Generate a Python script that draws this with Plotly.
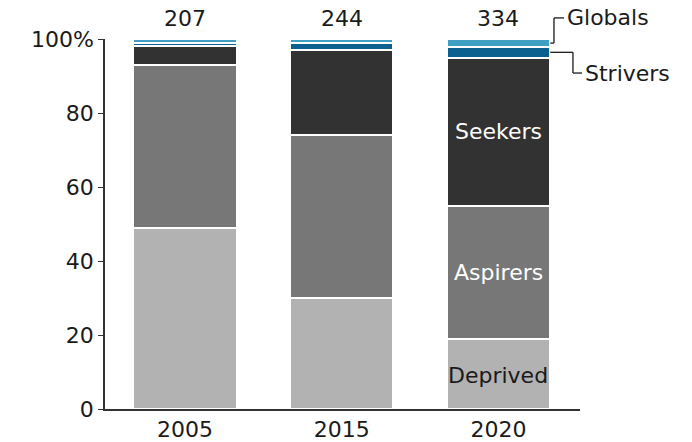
import plotly.graph_objects as go

years = ["2005", "2015", "2020"]
totals = [207, 244, 334]

# share of households (%), bottom to top
deprived = [49, 30, 19]
aspirers = [44, 44, 36]
seekers = [5, 23, 40]
strivers = [1, 1.8, 2.8]
globals_ = [1, 1.2, 2.2]

segments = [
    ("Deprived", deprived, "#b2b2b2"),
    ("Aspirers", aspirers, "#777777"),
    ("Seekers", seekers, "#323232"),
    ("Strivers", strivers, "#0b6090"),
    ("Globals", globals_, "#3fa0c4"),
]

FONT = "DejaVu Sans"
BAR_W = 0.66
X_RANGE = [-0.51, 2.52]
TXT = "#1a1a1a"

fig = go.Figure()
for name, vals, color in segments:
    fig.add_trace(go.Bar(
        x=years, y=vals, name=name,
        marker=dict(color=color, line=dict(color="white", width=2)),
        width=BAR_W, showlegend=False,
    ))

# totals above the bars (category index used as x)
for i, t in enumerate(totals):
    fig.add_annotation(x=i, y=100, yshift=6, text=str(t), showarrow=False,
                       yanchor="bottom")

# labels inside the 2020 bar
base = 0
label_colors = {"Deprived": TXT, "Aspirers": "white", "Seekers": "white"}
label_pos = {"Deprived": 0.48, "Aspirers": 0.5, "Seekers": 0.5}
for name, vals, color in segments[:3]:
    v = vals[2]
    fig.add_annotation(x=2, y=base + v * label_pos[name], text=name,
                       showarrow=False, yanchor="middle",
                       font=dict(color=label_colors[name]))
    base += v


# elbow callouts for Globals and Strivers, in paper coords so they are not clipped
def px(x):
    return (x - X_RANGE[0]) / (X_RANGE[1] - X_RANGE[0])


edge = 2 + BAR_W / 2
top_20 = deprived[2] + aspirers[2] + seekers[2]
striv_mid = top_20 + strivers[2] / 2
glob_mid = top_20 + strivers[2] + globals_[2] / 2
line = dict(color=TXT, width=1.3)


def elbow(y0, x1, y1, x2):
    for a, b, c, d in [(edge, y0, x1, y0), (x1, y0, x1, y1), (x1, y1, x2, y1)]:
        fig.add_shape(type="line", xref="paper", yref="paper",
                      x0=px(a), y0=b / 100, x1=px(c), y1=d / 100, line=line)


elbow(glob_mid, 2.354, 105.7, 2.418)
elbow(striv_mid, 2.475, 90.8, 2.533)
fig.add_annotation(xref="paper", yref="paper", x=px(2.418), y=1.057,
                   text="Globals", showarrow=False,
                   xanchor="left", yanchor="middle", xshift=1)
fig.add_annotation(xref="paper", yref="paper", x=px(2.533), y=0.908,
                   text="Strivers", showarrow=False,
                   xanchor="left", yanchor="middle", xshift=1)

fig.update_layout(
    barmode="stack",
    width=692, height=442,
    margin=dict(l=105, r=112, t=39, b=33, autoexpand=False),
    plot_bgcolor="white", paper_bgcolor="white",
    font=dict(family=FONT, size=22, color=TXT),
)
fig.update_xaxes(
    type="category", range=X_RANGE, automargin=False,
    showline=True, linecolor="#333333", linewidth=1.5,
    ticks="", showgrid=False,
)
fig.update_yaxes(
    range=[0, 100], tickvals=[0, 20, 40, 60, 80, 100],
    ticktext=["0", "20", "40", "60", "80", "100%"], automargin=False,
    showline=True, linecolor="#333333", linewidth=1.5,
    ticks="outside", ticklen=5, tickcolor="#333333",
    showgrid=False, zeroline=False,
)

# drop the default 8px body margin so the figure fills the window
fig.write_html("out.html", config={"displayModeBar": False},
               post_script="document.body.style.margin='0';")
